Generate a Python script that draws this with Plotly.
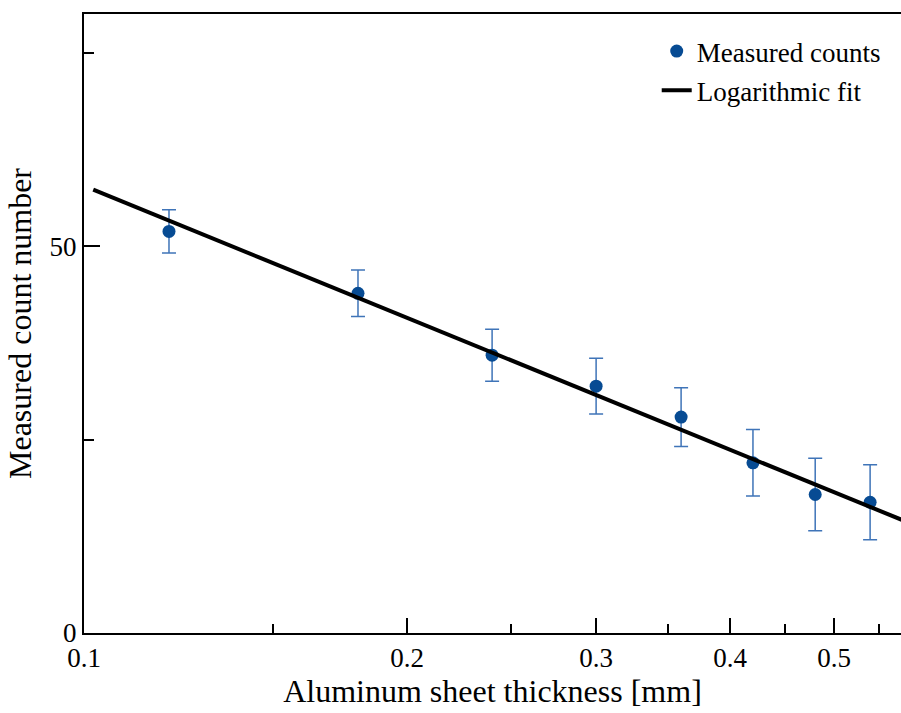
import plotly.graph_objects as go
import numpy as np

thickness = [0.12, 0.18, 0.24, 0.30, 0.36, 0.42, 0.48, 0.54]
counts = [51.9, 43.9, 35.9, 31.9, 27.9, 22.0, 17.9, 16.9]
errors = [2.8, 3.0, 3.35, 3.6, 3.8, 4.3, 4.7, 4.85]

fit_x = [0.102, 0.62]
fit_y = [57.3, 12.9]

x_major = [0.1, 0.2, 0.3, 0.4, 0.5]
x_minor = [0.15, 0.25, 0.35, 0.45, 0.55]
x_range = [0.1, 0.577]
y_range = [0, 80]

FONT = "Liberation Serif"

fig = go.Figure()
fig.add_trace(go.Scatter(
    x=thickness, y=counts, mode="markers", name="Measured counts",
    legendgroup="a",
    marker=dict(color="#074b93", size=13),
    error_y=dict(type="data", array=errors, visible=True,
                 color="#3f74b8", thickness=1.5, width=7),
))
fig.add_trace(go.Scatter(
    x=fit_x, y=fit_y, mode="lines", name="Logarithmic fit",
    legendgroup="b",
    line=dict(color="black", width=4),
))

fig.update_layout(
    width=901, height=713,
    margin=dict(l=84, r=0, t=14, b=80),
    plot_bgcolor="white", paper_bgcolor="white",
    font=dict(family=FONT, color="black", size=27),
    showlegend=True,
    legend=dict(x=0.701, y=0.979, xanchor="left", yanchor="top",
                font=dict(family=FONT, size=27), bgcolor="rgba(0,0,0,0)",
                tracegroupgap=1),
)
fig.update_xaxes(
    type="log", range=[np.log10(x_range[0]), np.log10(x_range[1])],
    tickvals=x_major, ticktext=[str(v) for v in x_major],
    ticks="inside", ticklen=15, tickwidth=2, tickcolor="black",
    minor=dict(tickvals=x_minor, ticks="inside", ticklen=9, tickwidth=2, tickcolor="black"),
    showline=True, linecolor="black", linewidth=2, mirror=True,
    showgrid=False, zeroline=False,
    tickfont=dict(family=FONT, size=27),
    title=dict(text="Aluminum sheet thickness [mm]", font=dict(family=FONT, size=32), standoff=6),
)
fig.update_yaxes(
    range=y_range, tickvals=[0, 50], ticktext=["0", "50"],
    ticks="inside", ticklen=16, tickwidth=2, tickcolor="black",
    minor=dict(tickvals=[25, 75], ticks="inside", ticklen=10, tickwidth=2, tickcolor="black"),
    showline=True, linecolor="black", linewidth=2,
    showgrid=False, zeroline=False,
    tickfont=dict(family=FONT, size=27),
    title=dict(text="Measured count number", font=dict(family=FONT, size=32), standoff=8),
)

fig.write_html("out.html")
